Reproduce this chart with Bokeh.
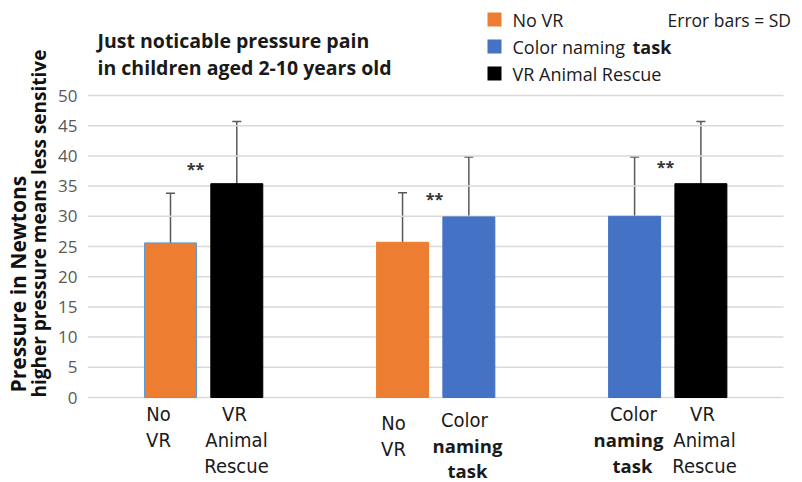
import math
from bokeh.plotting import figure
from bokeh.layouts import row
from bokeh.models import ColumnDataSource, Whisker, TeeHead, FixedTicker, Range1d
from bokeh.core.properties import value
from bokeh.embed import file_html
from bokeh.resources import INLINE

# ---------------- data ----------------
conditions = ["No VR", "VR Animal Rescue", "No VR", "Color naming task",
              "Color naming task", "VR Animal Rescue"]
group_of_bar = [0, 0, 1, 1, 2, 2]
slot_in_group = [0, 1, 0, 1, 0, 1]
means = [25.6, 35.4, 25.7, 29.9, 30.0, 35.4]
sd_upper = [33.8, 45.7, 33.9, 39.8, 39.8, 45.7]
sd_lower = [24.7, 34.4, 24.8, 28.9, 29.0, 34.4]
y_ticks = [0, 5, 10, 15, 20, 25, 30, 35, 40, 45, 50]
signif_marks = ["**", "**", "**"]
signif_y = [37.8, 32.9, 38.1]
title_lines = ["Just noticable pressure pain", "in children aged 2-10 years old"]
legend_labels = ["No VR", "Color naming", "VR Animal Rescue"]
legend_bold_suffix = "task"
note_text = "Error bars = SD"
y_title_lines = ["Pressure in Newtons", "higher pressure means less sensitive"]

colors = {"No VR": "#ED7D31", "Color naming task": "#4472C4",
          "VR Animal Rescue": "#000000"}
legend_colors = [colors["No VR"], colors["Color naming task"], colors["VR Animal Rescue"]]

# ---------------- layout helpers ----------------
PAGE_W, PAGE_H = 802, 482
LEFT_W = 52                 # width of the y-title strip
MAIN_W = PAGE_W - LEFT_W
FRAME_LEFT_PAGE = 87
PX_PER_X = 66.3
PX_PER_Y = 6.04
X0_PAGE = 170.0             # page px of x=0
Y0_PAGE = 397.0             # page px of y=0
GROUP_STRIDE = 3.5
BAR_W = 0.784
GRID_X_END_PAGE = 783


def px2x(px):
    return (px - X0_PAGE) / PX_PER_X


def py2y(py):
    return (Y0_PAGE - py) / PX_PER_Y


x_start = px2x(FRAME_LEFT_PAGE)
x_end = px2x(PAGE_W)
y_start = py2y(PAGE_H)
y_end = py2y(0)

xpos = [g * GROUP_STRIDE + s for g, s in zip(group_of_bar, slot_in_group)]
fills = [colors[c] for c in conditions]
lines = ["#5B9BD5"] + fills[1:]

src = ColumnDataSource(dict(x=xpos, top=means, upper=sd_upper, lower=sd_lower,
                            fill=fills, line=lines, cond=conditions))

p = figure(width=MAIN_W, height=PAGE_H, output_backend="svg", toolbar_location=None,
           x_range=Range1d(x_start, x_end), y_range=Range1d(y_start, y_end),
           x_axis_location=None, min_border_left=FRAME_LEFT_PAGE - LEFT_W,
           min_border_right=0, min_border_top=0, min_border_bottom=0)
p.outline_line_color = None
p.background_fill_color = "white"
p.border_fill_color = "white"

ticker = FixedTicker(ticks=y_ticks)
yax = p.yaxis[0]
yax.ticker = ticker
yax.axis_line_color = None
yax.major_tick_line_color = None
yax.minor_tick_line_color = None
yax.major_tick_out = 0
yax.major_tick_in = 0
yax.minor_tick_out = 0
yax.minor_tick_in = 0
yax.major_label_standoff = 10
yax.major_label_text_font = "Open Sans"
yax.major_label_text_font_size = "17px"
yax.major_label_text_color = "#595959"
p.ygrid.visible = False
p.xgrid.visible = False

# horizontal grid lines at the y ticks
p.segment(x0=[px2x(FRAME_LEFT_PAGE)] * len(y_ticks), x1=[px2x(GRID_X_END_PAGE)] * len(y_ticks),
          y0=y_ticks, y1=y_ticks, line_color="#d9d9d9", line_width=1.5)

p.vbar(x="x", top="top", bottom=0, width=BAR_W, fill_color="fill",
       line_color="line", line_width=1, source=src)

wh = Whisker(base="x", upper="upper", lower="lower", source=src,
             line_color="#595959", line_width=1.5,
             upper_head=TeeHead(size=9, line_color="#595959", line_width=1.5),
             lower_head=TeeHead(size=9, line_color="#595959", line_width=1.5))
p.add_layout(wh)

# significance marks
sig_x = [px2x(195), px2x(434), px2x(665)]
p.text(x=sig_x, y=signif_y, text=signif_marks, text_align="center",
       text_baseline="middle", text_font=value("Open Sans"),
       text_font_style="bold", text_font_size="16px", text_color="#333333")

# title
p.text(x=[px2x(97), px2x(97)], y=[py2y(40), py2y(67)], text=title_lines,
       text_align="left", text_baseline="middle", text_font=value("Open Sans"),
       text_font_style="bold", text_font_size="19.5px", text_color="#1a1a1a")

# legend
leg_y = [py2y(19), py2y(46), py2y(73)]
p.scatter(x=[px2x(494)] * 3, y=leg_y, marker="square", size=14,
          fill_color=legend_colors, line_color=None)
p.text(x=[px2x(512)] * 3, y=leg_y, text=legend_labels,
       text_align="left", text_baseline="middle", text_font=value("Open Sans"),
       text_font_size="18px", text_color="#1a1a1a")
p.text(x=[px2x(632)], y=[leg_y[1]], text=[legend_bold_suffix], text_align="left",
       text_baseline="middle", text_font=value("Open Sans"), text_font_style="bold",
       text_font_size="18px", text_color="#1a1a1a")
p.text(x=[px2x(667)], y=[leg_y[0]], text=[note_text], text_align="left",
       text_baseline="middle", text_font=value("Open Sans"),
       text_font_size="17.5px", text_color="#1a1a1a")

# x category labels (normal parts)
norm_t = ["No", "VR", "VR", "Animal", "Rescue", "No", "VR", "Color", "Color",
          "VR", "Animal", "Rescue"]
norm_px = [158, 158, 234, 236, 236, 393, 393, 464, 633, 702, 704, 704]
norm_py = [413, 439, 413, 439, 465, 422, 448, 419, 413, 413, 439, 465]
p.text(x=[px2x(v) for v in norm_px], y=[py2y(v) for v in norm_py], text=norm_t,
       text_align="center", text_baseline="middle",
       text_font=value("DejaVu Sans Condensed"),
       text_font_size="20px", text_color="#1a1a1a")
# x category labels (bold parts)
bold_t = ["naming", "task", "naming", "task"]
bold_px = [467, 467, 628, 632]
bold_py = [445, 470, 439, 465]
p.text(x=[px2x(v) for v in bold_px], y=[py2y(v) for v in bold_py], text=bold_t,
       text_align="center", text_baseline="middle", text_font=value("Open Sans"),
       text_font_style="bold", text_font_size="18.5px", text_color="#1a1a1a")

# ---------------- left strip with the rotated y-axis title ----------------
q = figure(width=LEFT_W, height=PAGE_H, output_backend="svg", toolbar_location=None,
           x_range=Range1d(0, LEFT_W), y_range=Range1d(0, PAGE_H),
           x_axis_location=None, y_axis_location=None,
           min_border_left=0, min_border_right=0, min_border_top=0, min_border_bottom=0)
q.outline_line_color = None
q.xgrid.visible = False
q.ygrid.visible = False
q.text(x=[17], y=[PAGE_H - 392], text=[y_title_lines[0]],
       angle=math.pi / 2, text_align="left", text_baseline="middle",
       text_font=value("Open Sans"), text_font_style="bold",
       text_font_size="21px", text_color="#111111")
q.text(x=[38], y=[PAGE_H - 397], text=[y_title_lines[1]],
       angle=math.pi / 2, text_align="left", text_baseline="middle",
       text_font=value("Open Sans"), text_font_style="bold",
       text_font_size="19px", text_color="#111111")

layout = row(q, p)
open("out.html", "w").write(file_html(layout, INLINE))
